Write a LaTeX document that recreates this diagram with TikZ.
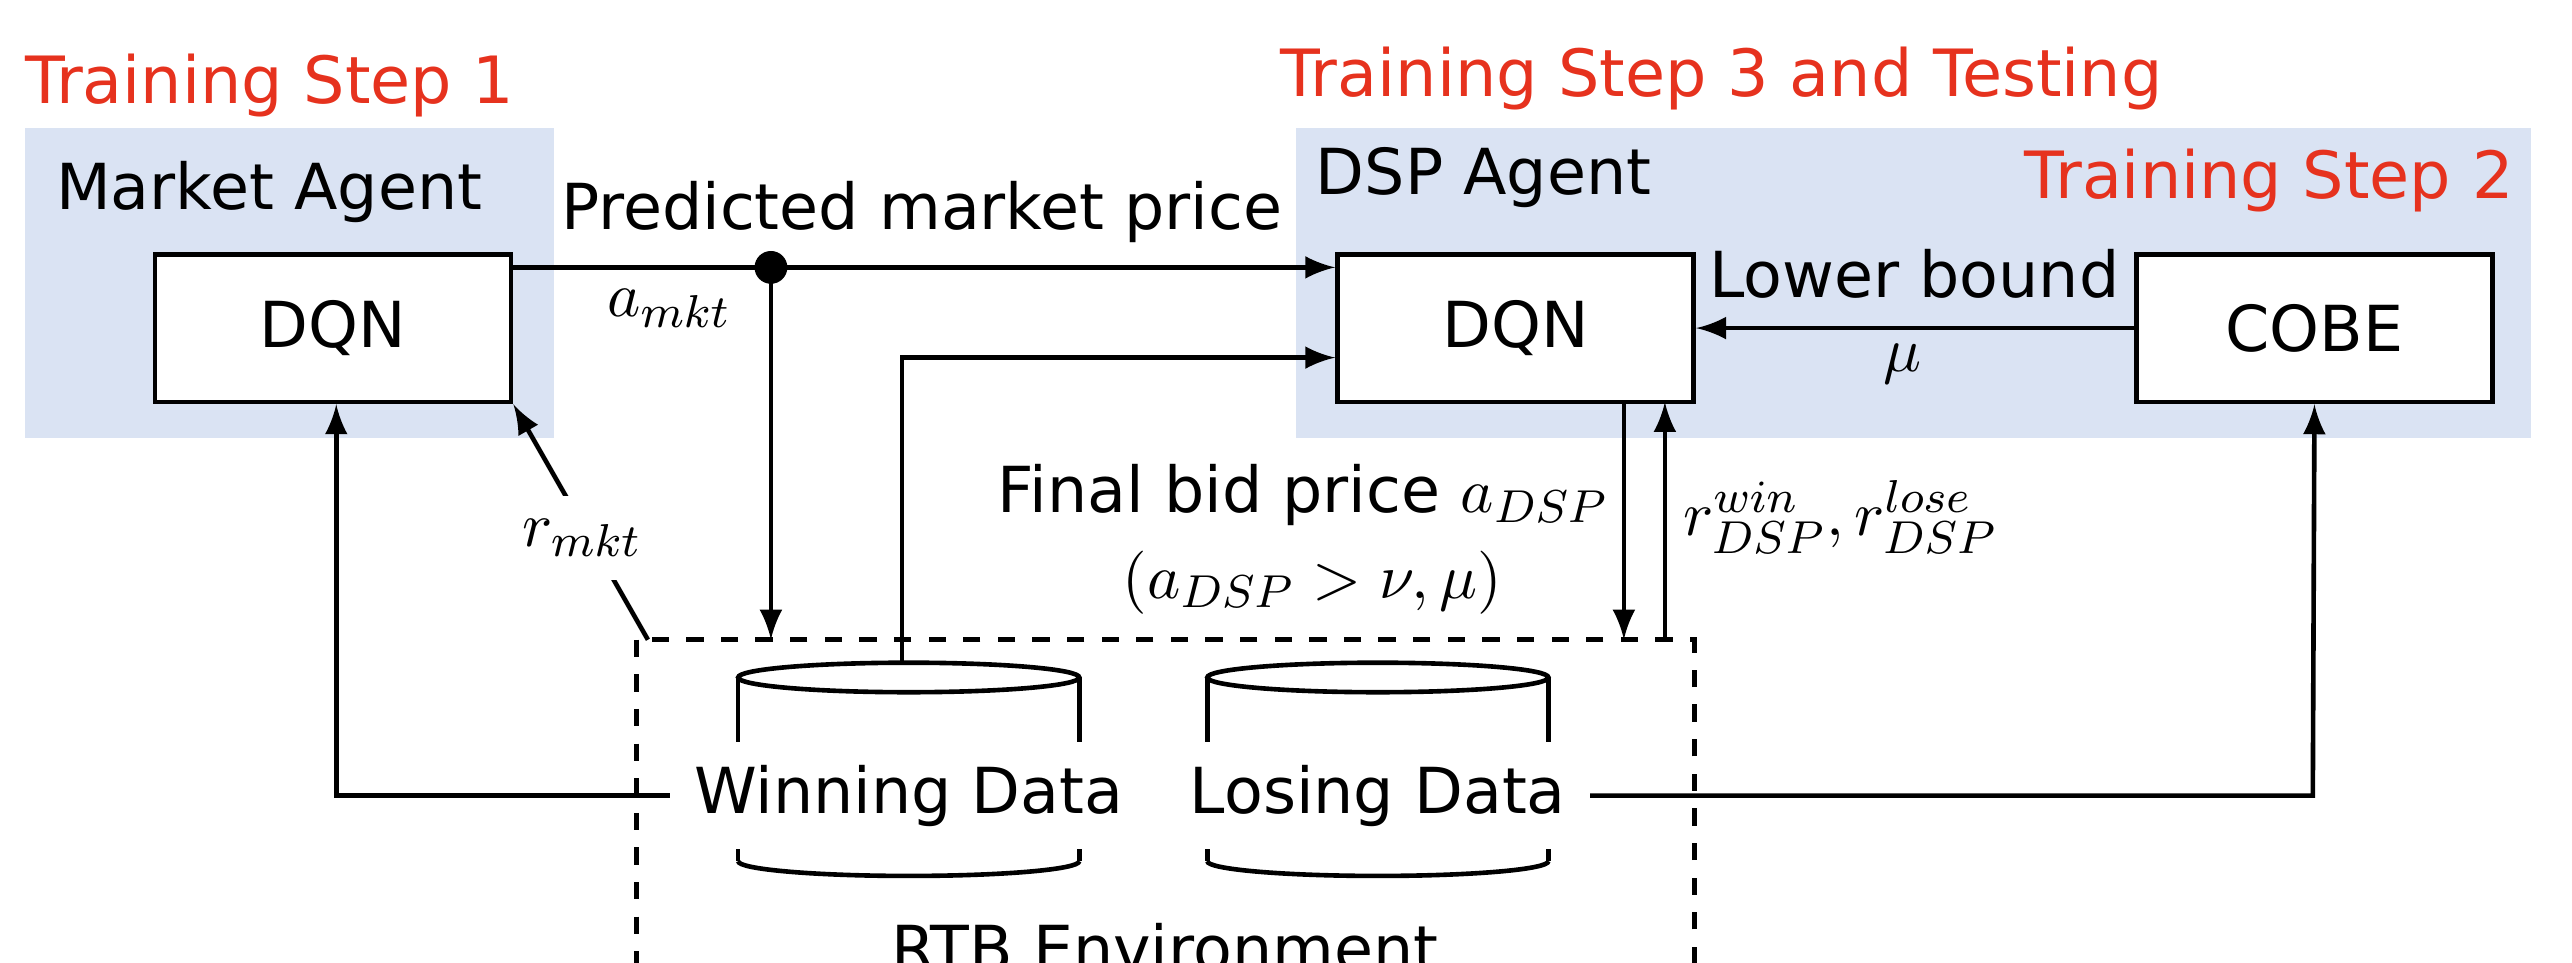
\documentclass[tikz,border=0pt]{standalone}
\usepackage{fontspec}
\setmainfont{DejaVu Sans}
\usetikzlibrary{positioning}
\definecolor{agentbg}{RGB}{218,227,243}
\definecolor{stepred}{RGB}{230,50,30}
\begin{document}
\begin{tikzpicture}[x=0.01cm,y=-0.01cm,
    agentstyle/.style={fill=agentbg, draw=none},
    boxstyle/.style={rectangle, draw, thick, fill=white, minimum width=2.17cm, minimum height=0.9cm, font=\fontsize{11}{13}\selectfont},
    labelstyle/.style={font=\fontsize{11}{13}\selectfont, inner sep=1pt},
    stepstyle/.style={text=stepred, font=\fontsize{11.3}{13}\selectfont, inner sep=0pt},
    arrowstyle/.style={-latex, thick}
]
    \useasboundingbox (0,0) rectangle (1568,587);
    % agent areas
    \fill[agentstyle] (15,78) rectangle (338,267);
    \fill[agentstyle] (790,78) rectangle (1543,267);
    \node[stepstyle, anchor=west] (step1) at (15,52) {Training Step 1};
    \node[stepstyle, anchor=west] (step3) at (780,48) {Training Step 3 and Testing};
    \node[stepstyle, anchor=east] (step2) at (1533,110) {Training Step 2};
    \node[labelstyle, anchor=west] (market) at (30,117) {Market Agent};
    \node[labelstyle, anchor=west] (dsp) at (798,108) {DSP Agent};

    \node[boxstyle] (mdqn) at (203,200) {DQN};
    \node[boxstyle] (ddqn) at (924,200) {DQN};
    \node[boxstyle] (cobe) at (1411,200) {COBE};

    % environment
    \draw[thick, dashed] (388,390) rectangle (1033,620);
    \node[labelstyle] (rtb) at (710,578) {RTB Environment};
    \foreach \cx/\nm/\txt in {554/win/Winning Data, 840/lose/Losing Data}{
        \draw[thick] (\cx-104,413) -- (\cx-104,525) (\cx+104,413) -- (\cx+104,525);
        \draw[thick] (\cx-104,525) arc[start angle=180, end angle=360, x radius=104, y radius=-9];
        \draw[thick, fill=white] (\cx,413) ellipse[x radius=104, y radius=9];
        \node[labelstyle, fill=white, inner sep=4pt] (\nm) at (\cx,485) {\txt};
    }

    % connectors
    \coordinate (dot) at (470,163);
    \draw[arrowstyle] (mdqn.east |- dot) -- (ddqn.west |- dot);
    \fill (dot) circle (10);
    \node[labelstyle, anchor=south] (pmp) at (562,152) {Predicted market price};
    \node[labelstyle] (amkt) at (408,188) {$a_{mkt}$};
    \draw[arrowstyle] (dot) -- (470,390);
    \draw[arrowstyle] (550,404) -- (550,218) -- (ddqn.west |- 0,218);
    \draw[arrowstyle] (cobe.west) -- (ddqn.east);
    \node[labelstyle] (lb) at (1167,167) {Lower bound};
    \node[labelstyle] (mu) at (1160,222) {$\mu$};
    \draw[arrowstyle] (990,245) -- (990,390);
    \draw[arrowstyle] (1015,390) -- (1015,245);
    \node[labelstyle, anchor=east] (bid) at (985,302) {Final bid price $a_{DSP}$};
    \node[labelstyle] (cond) at (800,355) {$(a_{DSP}>\nu,\mu)$};
    \node[labelstyle, anchor=west] (rdsp) at (1022,315) {$r_{DSP}^{win},r_{DSP}^{lose}$};
    \draw[arrowstyle] (win.west) -- (205,485) -- (mdqn.south -| 205,0);
    \draw[arrowstyle] (lose.east) -- (1410,485) -- (cobe.south);
    \draw[arrowstyle] (395,390) -- (mdqn.south east);
    \node[labelstyle, fill=white, inner sep=4pt] (rmkt) at (355,328) {$r_{mkt}$};
\end{tikzpicture}
\end{document}
